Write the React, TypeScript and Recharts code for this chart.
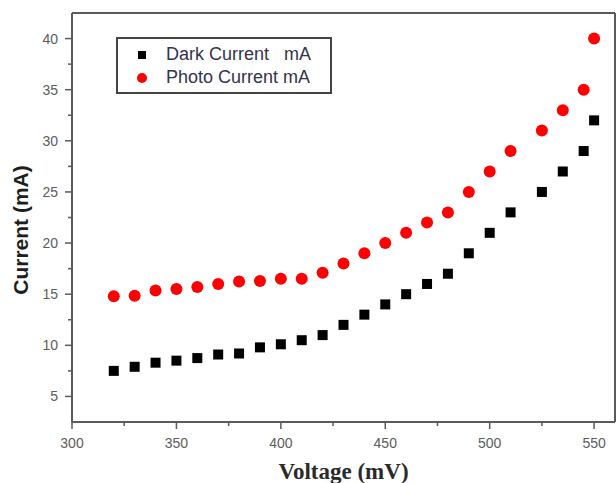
import { ScatterChart, Scatter, XAxis, YAxis, ReferenceLine, Legend, Label } from 'recharts'

// Voltage steps (mV) shared by both series
const voltage = [320, 330, 340, 350, 360, 370, 380, 390, 400, 410, 420, 430, 440, 450, 460, 470, 480, 490, 500, 510, 525, 535, 545, 550]
const darkCurrent = [7.5, 7.9, 8.3, 8.5, 8.75, 9.1, 9.2, 9.8, 10.1, 10.5, 11, 12, 13, 14, 15, 16, 17, 19, 21, 23, 25, 27, 29, 32]
const photoCurrent = [14.8, 14.85, 15.35, 15.5, 15.7, 16, 16.25, 16.3, 16.5, 16.5, 17.1, 18, 19, 20, 21, 22, 23, 25, 27, 29, 31, 33, 35, 40]
const seriesNames = ['Dark Current   mA', 'Photo Current mA']

const xMajorTicks = [300, 350, 400, 450, 500, 550]
const xMinorTicks = [325, 375, 425, 475, 525]
const yMajorTicks = [5, 10, 15, 20, 25, 30, 35, 40]
const yMinorTicks = [7.5, 12.5, 17.5, 22.5, 27.5, 32.5, 37.5]
const xDomain = [300, 560]
const yDomain = [2.5, 42.5]

const darkData = voltage.map((v, i) => ({ v, c: darkCurrent[i] }))
const photoData = voltage.map((v, i) => ({ v, c: photoCurrent[i] }))

const AXIS = '#5a5a5a'
const TICK_TEXT = '#5c5c5c'
const SANS = '"Liberation Sans", Arial, sans-serif'

// tick line + label drawn together so minor ticks can be shorter
function XTick({ x, y, payload }: any) {
  const major = xMajorTicks.includes(payload.value)
  return (
    <g>
      <line x1={x} y1={y} x2={x} y2={y + (major ? 7 : 4)} stroke={AXIS} strokeWidth={1.5} />
      {major && (
        <text x={x} y={y + 26} textAnchor="middle" fontSize={14} fontFamily={SANS} fill={TICK_TEXT}>
          {payload.value}
        </text>
      )}
    </g>
  )
}

function YTick({ x, y, payload }: any) {
  const major = yMajorTicks.includes(payload.value)
  return (
    <g>
      <line x1={x - (major ? 7 : 4)} y1={y} x2={x} y2={y} stroke={AXIS} strokeWidth={1.5} />
      {major && (
        <text x={x - 14} y={y + 5} textAnchor="end" fontSize={14} fontFamily={SANS} fill={TICK_TEXT}>
          {payload.value}
        </text>
      )}
    </g>
  )
}

const DarkSquare = (props: any) => <rect x={props.cx - 5} y={props.cy - 5} width={10} height={10} fill="#000000" />
const PhotoDot = (props: any) => <circle cx={props.cx} cy={props.cy} r={6} fill="#ff0000" />

function LegendBox() {
  return (
    <div style={{ border: '2px solid #444', background: '#fff', width: 212, padding: '4px 0 3px', fontFamily: SANS, fontSize: 18, color: '#33334a' }}>
      {seriesNames.map((name, i) => (
        <div key={name} style={{ display: 'flex', alignItems: 'center', height: 23, whiteSpace: 'pre' }}>
          <div style={{ width: 48, display: 'flex', justifyContent: 'center' }}>
            {i === 0 ? (
              <div style={{ width: 8, height: 8, background: '#000' }} />
            ) : (
              <div style={{ width: 10, height: 10, borderRadius: 5, background: '#ff0000' }} />
            )}
          </div>
          <span>{name}</span>
        </div>
      ))}
    </div>
  )
}

export default function App() {
  return (
    <div style={{ position: 'absolute', left: 0, top: 0, background: '#fff' }}>
      <ScatterChart width={616} height={483} margin={{ top: 13, right: 1, bottom: 0, left: 0 }}>
        <XAxis
          type="number"
          dataKey="v"
          domain={xDomain}
          ticks={[...xMajorTicks, ...xMinorTicks].sort((a, b) => a - b)}
          interval={0}
          allowDataOverflow
          height={61}
          tickSize={0}
          tickMargin={0}
          tickLine={false}
          tick={<XTick />}
          axisLine={{ stroke: AXIS, strokeWidth: 2 }}
        >
          <Label
            value="Voltage (mV)"
            position="insideBottom"
            offset={4}
            style={{ fontFamily: '"Liberation Serif", "Times New Roman", serif', fontWeight: 'bold', fontSize: 23, fill: '#2a2a2a' }}
          />
        </XAxis>
        <YAxis
          type="number"
          dataKey="c"
          domain={yDomain}
          ticks={[...yMajorTicks, ...yMinorTicks].sort((a, b) => a - b)}
          interval={0}
          allowDataOverflow
          width={72}
          tickSize={0}
          tickMargin={0}
          tickLine={false}
          tick={<YTick />}
          axisLine={{ stroke: AXIS, strokeWidth: 2 }}
        >
          <Label
            content={() => (
              <text
                x={20}
                y={230}
                transform="rotate(-90 20 230)"
                textAnchor="middle"
                dominantBaseline="central"
                fontFamily={SANS}
                fontWeight="bold"
                fontSize={21}
                fill="#1e1e1e"
              >
                Current (mA)
              </text>
            )}
          />
        </YAxis>

        {/* frame: top and right edges */}
        <ReferenceLine y={yDomain[1]} stroke={AXIS} strokeWidth={2} />
        <ReferenceLine x={xDomain[1]} stroke={AXIS} strokeWidth={2} />

        <Legend
          layout="horizontal"
          verticalAlign="middle"
          align="center"
          wrapperStyle={{ left: 116, top: 37, width: 'auto', height: 'auto' }}
          content={() => <LegendBox />}
        />

        <Scatter name={seriesNames[0]} data={darkData} shape={DarkSquare} isAnimationActive={false} />
        <Scatter name={seriesNames[1]} data={photoData} shape={PhotoDot} isAnimationActive={false} />
      </ScatterChart>
    </div>
  )
}
